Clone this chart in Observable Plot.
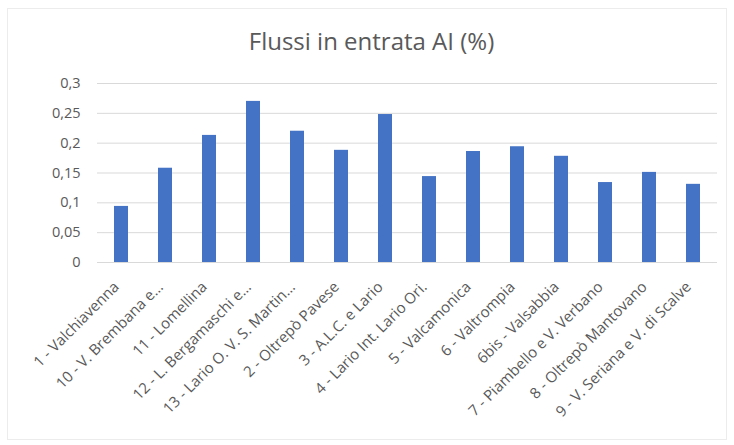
<!DOCTYPE html>
<html>
<head>
<meta charset="utf-8">
<script src="https://cdn.jsdelivr.net/npm/d3@7"></script>
<script src="https://cdn.jsdelivr.net/npm/@observablehq/plot@0.6"></script>
<style>
  html, body { margin: 0; padding: 0; background: #fff; }
  #wrap { position: relative; width: 734px; height: 445px; overflow: hidden; font-family: "Open Sans", sans-serif; }
  #frame { position: absolute; left: 7px; top: 8px; width: 720px; height: 432px; border: 1px solid #ececec; box-sizing: border-box; }
  #title { position: absolute; left: 9px; width: 725px; top: 24px; text-align: center; font-size: 24px; line-height: 33px; color: #595959; }
  #chart { position: absolute; left: 0; top: 0; }
</style>
</head>
<body>
<div id="wrap">
  <div id="frame"></div>
  <div id="chart"></div>
  <div id="title">Flussi in entrata AI (%)</div>
</div>
<script>
const categories = [
  "1 - Valchiavenna",
  "10 - V. Brembana e…",
  "11 - Lomellina",
  "12 - L. Bergamaschi e…",
  "13 - Lario O. V. S. Martin…",
  "2 - Oltrepò Pavese",
  "3 - A.L.C. e Lario",
  "4 - Lario Int. Lario Ori.",
  "5 - Valcamonica",
  "6 - Valtrompia",
  "6bis - Valsabbia",
  "7 - Piambello e V. Verbano",
  "8 - Oltrepò Mantovano",
  "9 - V. Seriana e V. di Scalve"
];
const values = [0.094, 0.158, 0.213, 0.270, 0.220, 0.188, 0.248, 0.144, 0.186, 0.194, 0.178, 0.134, 0.151, 0.131];
const yTicks = [0, 0.05, 0.1, 0.15, 0.2, 0.25, 0.3];
const yTickLabels = ["0", "0,05", "0,1", "0,15", "0,2", "0,25", "0,3"];

const data = categories.map((c, i) => ({category: c, value: values[i]}));

const chart = Plot.plot({
  width: 734,
  height: 445,
  marginTop: 83,
  marginBottom: 183,
  marginLeft: 97,
  marginRight: 17,
  style: {fontFamily: "Open Sans, sans-serif", fontSize: "15px", color: "#595959", background: "transparent"},
  x: {domain: categories, paddingInner: 0.68, paddingOuter: 0.34, label: null},
  y: {domain: [0, 0.3], label: null},
  marks: [
    Plot.gridY(yTicks, {stroke: "#d9d9d9", strokeOpacity: 1}),
    Plot.barY(data, {x: "category", y: "value", fill: "#4472C4"}),
    Plot.axisY({ticks: yTicks, tickSize: 0, tickPadding: 17, tickFormat: (d) => yTickLabels[yTicks.indexOf(d)], fontSize: 14.5, fill: "#595959"}),
    Plot.axisX({tickSize: 0, tickRotate: -45, tickPadding: 22, fontSize: 15, fill: "#595959", textAnchor: "end", dx: -5})
  ]
});
document.getElementById("chart").appendChild(chart);
</script>
</body>
</html>
